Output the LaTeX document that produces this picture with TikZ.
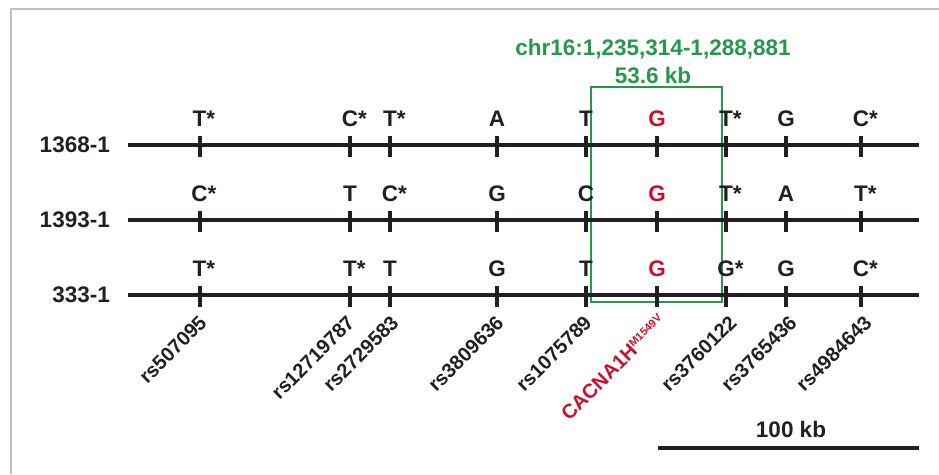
\documentclass[tikz,border=0pt]{standalone}
\usepackage{fontspec}
\setmainfont{Liberation Sans}
\definecolor{ink}{RGB}{35,31,32}
\definecolor{snpred}{RGB}{200,16,46}
\definecolor{boxgreen}{RGB}{38,152,74}
\definecolor{framegray}{RGB}{192,192,192}
\newcommand\snpstar{\rlap{*}}
\newcommand\rg{\textcolor{snpred}{G}}
\begin{document}
\begin{tikzpicture}[x=1pt,y=-1pt,
  every node/.style={font=\fontsize{22.5}{26}\selectfont\bfseries, text=ink, inner sep=0pt},
  track/.style={draw=ink, line width=4pt},
  tickmark/.style={draw=ink, line width=4pt},
  rowlab/.style={anchor=east},
  allele/.style={anchor=base},
  rslab/.style={anchor=north east, rotate=45, font=\fontsize{20}{24}\selectfont\bfseries},
  greenbox/.style={draw=boxgreen, line width=2.4pt},
  greentext/.style={anchor=base, text=boxgreen}]
\useasboundingbox (0,0) rectangle (939,474);
\draw[framegray, line width=1.5pt] (11,474) -- (11,9) -- (939,9);
% green region box
\coordinate (gbA) at (591,87);
\coordinate (gbB) at (722,302);
\draw[greenbox] (gbA) rectangle (gbB);
\node[greentext] (chr) at (653,55) {chr16:1,235,314-1,288,881};
\node[greentext] (kb) at (653,83) {53.6 kb};
% tracks
\foreach \nm/\y/\lab in {a/145/1368-1, b/220/1393-1, c/295/333-1}{
  \coordinate (\nm L) at (128,\y);
  \coordinate (\nm R) at (919,\y);
  \node[rowlab] (\nm lab) at (110,\y) {\lab};
  \draw[track] (\nm L) -- (\nm R);
  \foreach \i/\x in {1/199.5,2/350,3/390,4/497,5/586,6/657,7/726,8/786,9/861}{
    \coordinate (\nm t\i) at (\x,\y);
    \draw[tickmark] ([yshift=9pt]\nm t\i) -- ([yshift=-12pt]\nm t\i);
  }
}
% alleles row 1
\foreach \i/\al in {1/T\snpstar,2/C\snpstar,3/T\snpstar,4/A,5/T,6/\rg,7/T\snpstar,8/G,9/C\snpstar}{
  \node[allele] (aal\i) at ([yshift=19pt]at\i) {\al};
}
% alleles row 2
\foreach \i/\al in {1/C\snpstar,2/T,3/C\snpstar,4/G,5/C,6/\rg,7/T\snpstar,8/A,9/T\snpstar}{
  \node[allele] (bal\i) at ([yshift=19pt]bt\i) {\al};
}
% alleles row 3
\foreach \i/\al in {1/T\snpstar,2/T\snpstar,3/T,4/G,5/T,6/\rg,7/G\snpstar,8/G,9/C\snpstar}{
  \node[allele] (cal\i) at ([yshift=19pt]ct\i) {\al};
}
% SNP names
\node[rslab] (rs1) at (198,314) {rs507095};
\node[rslab] (rs2) at (346,314) {rs12719787};
\node[rslab] (rs3) at (390,314) {rs2729583};
\node[rslab] (rs4) at (495,314) {rs3809636};
\node[rslab] (rs5) at (583,314) {rs1075789};
\node[rslab, text=snpred] (rs6) at (657,313) {CACNA1H\raisebox{7pt}{\fontsize{11}{12}\selectfont M1549V}};
\node[rslab] (rs7) at (728,314) {rs3760122};
\node[rslab] (rs8) at (788,314) {rs3765436};
\node[rslab] (rs9) at (863,314) {rs4984643};
% scale bar
\coordinate (sbL) at (658,448);
\coordinate (sbR) at (919,448);
\draw[track] (sbL) -- (sbR);
\node[allele] (sblab) at (791,437) {100 kb};
\end{tikzpicture}
\end{document}
